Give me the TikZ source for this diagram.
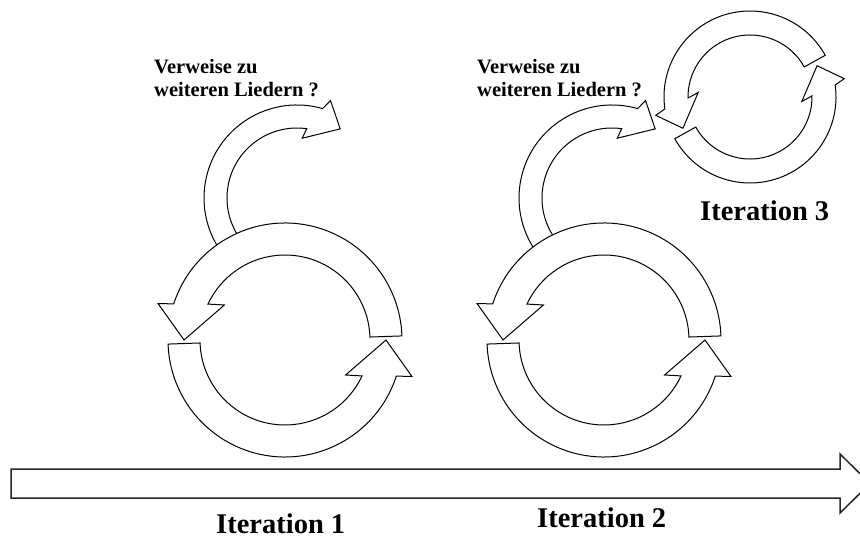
\documentclass[tikz,border=0pt]{standalone}
\usepackage{fontspec}
\setmainfont{Liberation Serif}

\tikzset{
  bogen/.style={draw=black, fill=white, line width=1pt},
  zeitpfeil/.style={draw=black!85, fill=white, line width=1.5pt},
  hinweis/.style={font=\bfseries\fontsize{20.5}{23}\selectfont, align=left, inner sep=0pt, anchor=base west},
  iteration/.style={font=\bfseries\fontsize{28.5}{32}\selectfont, inner sep=0pt, anchor=base west}
}

% block arrow on a circle: r innen, r aussen, start, ende aussen, ende innen,
% spitze aussen, spitze innen, ueberstand, spitze
\newcommand{\bogenpfeil}[9]{%
  \pgfmathsetmacro{\rinnen}{#1-#8}%
  \pgfmathsetmacro{\raussen}{#2+#8}%
  \pgfmathsetmacro{\rmitte}{(#1+#2)/2}%
  \draw[bogen] (#3:#1) arc[start angle=#3, end angle=#5, radius=#1]
    -- (#7:\rinnen) -- (#9:\rmitte) -- (#6:\raussen) -- (#4:#2)
    arc[start angle=#4, end angle=#3, radius=#2] -- cycle;}

\begin{document}
\begin{tikzpicture}[x=1pt, y=1pt]
  \useasboundingbox (0,0) rectangle (860,539);

  % time line
  \draw[zeitpfeil] (11,41) -- (840,41) -- (840,26) -- (870,55.5)
    -- (840,85) -- (840,70) -- (11,70) -- cycle;

  % verweise arrows
  \begin{scope}[shift={(297,341)}]
    \bogenpfeil{70}{93}{212}{74}{82}{71}{85}{10}{58}
  \end{scope}
  \begin{scope}[shift={(612,341)}]
    \bogenpfeil{70}{93}{212}{74}{82}{71}{85}{10}{58}
  \end{scope}

  % iteration 1
  \begin{scope}[shift={(285,199)}]
    \bogenpfeil{85}{117}{2}{162}{155}{164}{150}{15}{180}
  \end{scope}
  \begin{scope}[shift={(285,199)}, rotate=180]
    \bogenpfeil{85}{117}{2}{162}{155}{164}{150}{15}{180}
  \end{scope}

  % iteration 2
  \begin{scope}[shift={(604,199)}]
    \bogenpfeil{85}{117}{2}{162}{155}{164}{150}{15}{180}
  \end{scope}
  \begin{scope}[shift={(604,199)}, rotate=180]
    \bogenpfeil{85}{117}{2}{162}{155}{164}{150}{15}{180}
  \end{scope}

  % iteration 3
  \begin{scope}[shift={(750,442)}]
    \bogenpfeil{62}{86}{29}{188}{181}{191}{175}{10}{205}
  \end{scope}
  \begin{scope}[shift={(750,442)}, rotate=180]
    \bogenpfeil{62}{86}{29}{188}{181}{191}{175}{10}{205}
  \end{scope}

  \node[hinweis] (v1) at (154,442) {Verweise zu\\weiteren Liedern ?};
  \node[hinweis] (v2) at (477,442) {Verweise zu\\weiteren Liedern ?};

  \node[iteration] (i1) at (216,6) {Iteration 1};
  \node[iteration] (i2) at (537,12) {Iteration 2};
  \node[iteration] (i3) at (700,318) {Iteration 3};
\end{tikzpicture}
\end{document}
